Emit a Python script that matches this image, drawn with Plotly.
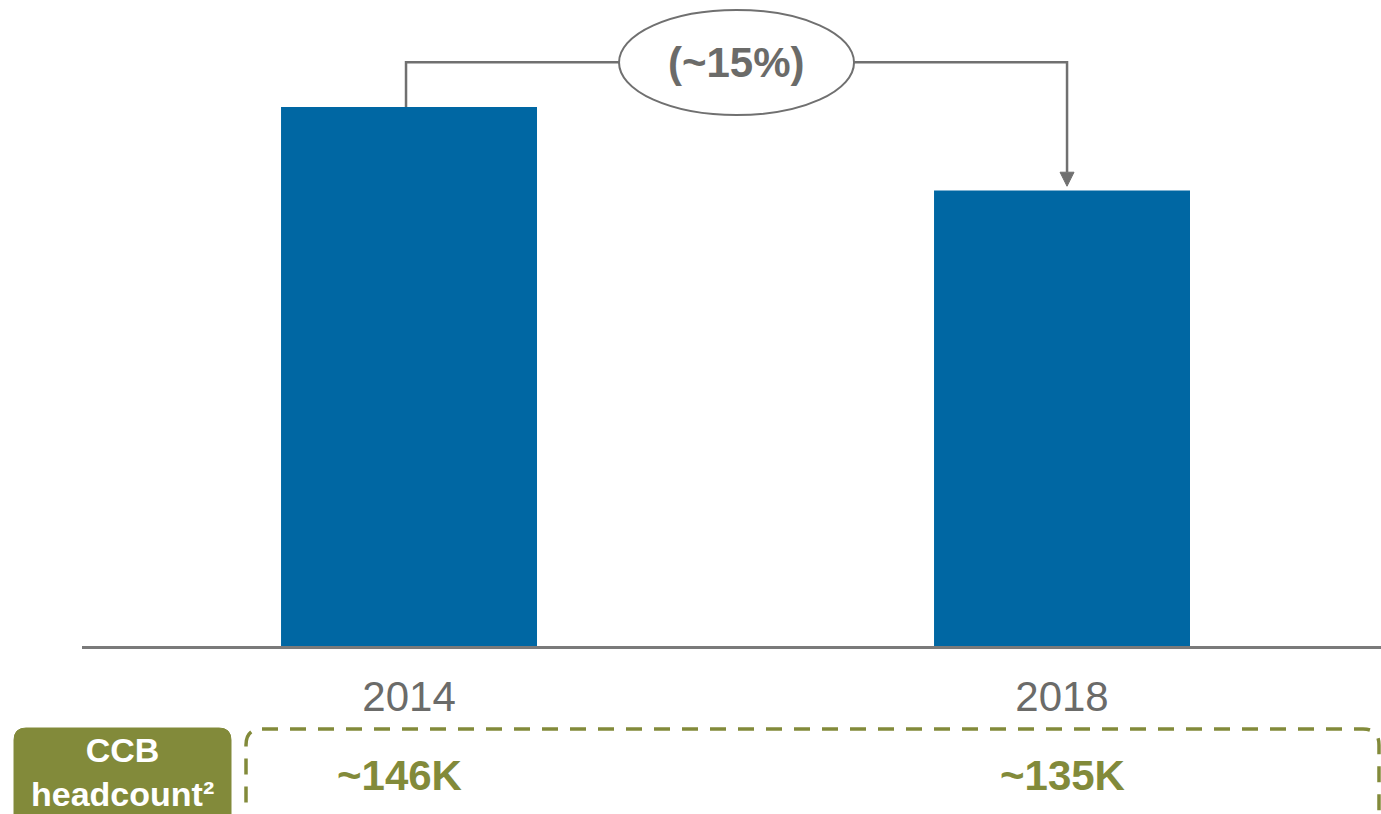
import plotly.graph_objects as go

# ---- data ----
years = ["2014", "2018"]
index_values = [100.0, 84.5]          # relative bar heights (2018 ~15% below 2014)
change_label = "(~15%)"
headcount_labels = ["~146K", "~135K"]
row_label = "CCB<br>headcount²"

BAR = "#0067A3"
GRAY = "#707070"
TXT_GRAY = "#6b6b69"
OLIVE = "#828A3A"
FONT = "Liberation Sans, Arial, sans-serif"

W, H = 1381, 814
ML, MT, MB = 82, 0, 168
PLOT_H = H - MT - MB   # 646
Y_MAX = 119.85

x_pos = list(range(len(years)))

fig = go.Figure(go.Bar(
    x=x_pos, y=index_values, width=0.392,
    marker=dict(color=BAR, line=dict(width=0)),
    hoverinfo="skip",
))

# helpers: screen px -> offsets for pixel-sized shapes anchored at paper (0,0)
def px(xs):
    return xs - ML
def py(ys):
    return (H - MB) - ys

def rrect(x0, y0, x1, y1, r):
    a, b, c, d = px(x0), py(y0), px(x1), py(y1)  # b top (larger), d bottom
    return (f"M {a+r},{b} L {c-r},{b} Q {c},{b} {c},{b-r} L {c},{d+r} Q {c},{d} {c-r},{d} "
            f"L {a+r},{d} Q {a},{d} {a},{d+r} L {a},{b-r} Q {a},{b} {a+r},{b} Z")

y_conn = 108.3
x_left = -0.0046
x_right = 1.0077
ell_x0, ell_x1 = 0.3216, 0.6815
ell_y0, ell_y1 = 98.5, 118.0
tip_y = 85.3
head_h = 2.6
head_w = 0.0107

shapes = [
    # connector
    dict(type="path", xref="x", yref="y",
         path=f"M {x_left},{index_values[0]} L {x_left},{y_conn} L {x_right},{y_conn} L {x_right},{tip_y+head_h}",
         line=dict(color=GRAY, width=2.5), layer="above"),
    dict(type="path", xref="x", yref="y",
         path=f"M {x_right-head_w},{tip_y+head_h} L {x_right+head_w},{tip_y+head_h} L {x_right},{tip_y} Z",
         fillcolor=GRAY, line=dict(color=GRAY, width=1), layer="above"),
    dict(type="circle", xref="x", yref="y", x0=ell_x0, x1=ell_x1, y0=ell_y0, y1=ell_y1,
         fillcolor="white", line=dict(color=GRAY, width=2), layer="above"),
    # green label box
    dict(type="path", xref="paper", yref="paper", xsizemode="pixel", ysizemode="pixel",
         xanchor=0, yanchor=0, path=rrect(14, 728, 231, 830, 12),
         fillcolor=OLIVE, line=dict(color=OLIVE, width=1)),
    # dashed box
    dict(type="path", xref="paper", yref="paper", xsizemode="pixel", ysizemode="pixel",
         xanchor=0, yanchor=0, path=rrect(246, 729, 1379, 840, 16),
         fillcolor="rgba(0,0,0,0)", line=dict(color=OLIVE, width=3.5, dash="16px,12px")),
]

annotations = [
    dict(x=(ell_x0 + ell_x1) / 2, y=(ell_y0 + ell_y1) / 2, xref="x", yref="y",
         xanchor="center", yanchor="middle",
         text=f"<b>{change_label}</b>", showarrow=False,
         font=dict(family=FONT, size=42, color=TXT_GRAY)),
    dict(x=(122.5 - ML) / (W - ML), y=py(772) / PLOT_H, xref="paper", yref="paper",
         xanchor="center", yanchor="middle",
         text=f"<b>{row_label}</b>", showarrow=False, align="center",
         font=dict(family=FONT, size=34, color="white")),
]
label_x = [-0.014, 1.0]
for xv, lab in zip(label_x, headcount_labels):
    annotations.append(dict(x=xv, y=py(775) / PLOT_H, xref="x", yref="paper",
                            xanchor="center", yanchor="middle",
                            text=f"<b>{lab}</b>", showarrow=False,
                            font=dict(family=FONT, size=42, color=OLIVE)))

fig.update_layout(
    width=W, height=H,
    margin=dict(l=ML, r=0, t=MT, b=MB, pad=0),
    paper_bgcolor="white", plot_bgcolor="white",
    showlegend=False,
    shapes=shapes, annotations=annotations,
    xaxis=dict(range=[-0.5008, 1.4885], tickvals=x_pos, ticktext=years,
               showgrid=False, zeroline=False, showline=True, linecolor="#7a7a7a", linewidth=3,
               ticks="", ticklabelstandoff=12,
               tickfont=dict(family=FONT, size=42, color=TXT_GRAY)),
    yaxis=dict(range=[0, Y_MAX], visible=False, showgrid=False, zeroline=False),
)

fig.write_html("out.html", config={"displayModeBar": False},
               post_script="document.body.style.margin='0px';document.body.style.overflow='hidden';")
